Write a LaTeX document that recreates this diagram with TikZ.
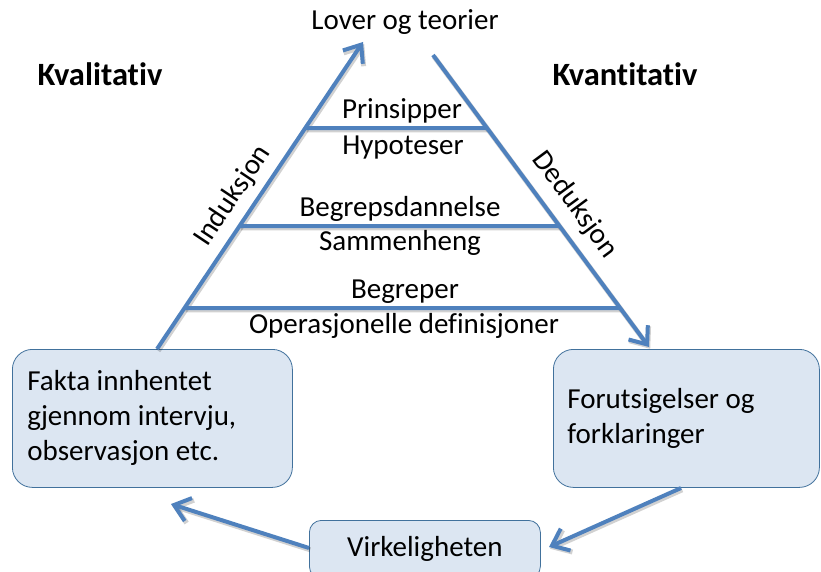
\documentclass[tikz,border=0pt]{standalone}
\usepackage{fontspec}
\setmainfont{Carlito}[Ligatures=CommonOff]
\usetikzlibrary{arrows.meta}
\definecolor{ln}{HTML}{4F81BD}
\definecolor{boxfill}{HTML}{DCE6F2}
\definecolor{boxline}{HTML}{41719C}
\begin{document}
\begin{tikzpicture}[x=1pt,y=-1pt,
  lbl/.style={font=\fontsize{29}{35}\selectfont, inner sep=0pt},
  sidelbl/.style={font=\fontsize{29}{35}\selectfont, inner sep=2pt, fill=white},
  head/.style={font=\fontsize{32.5}{38}\selectfont\bfseries, inner sep=0pt},
  flow/.style={draw=ln, line width=4pt, -{Straight Barb[length=15pt,width=24pt]}},
  flowshadow/.style={draw=black, opacity=0.18, line width=5pt,
    -{Straight Barb[length=15pt,width=24pt]}},
  rung/.style={draw=ln, line width=4pt},
  rungshadow/.style={draw=black, opacity=0.18, line width=5pt},
  card/.style={draw=boxline, line width=0.8pt, fill=boxfill, rounded corners=20pt,
    font=\fontsize{29}{35}\selectfont, align=flush left},
]
\useasboundingbox (0,0) rectangle (821,572);

% the three boxes of the cycle
\node[card, anchor=north west, minimum width=279pt, minimum height=138pt,
  text width=250pt, inner xsep=15pt] (fakta) at (12,349)
  {Fakta innhentet\\gjennom intervju,\\observasjon etc.};
\node[card, anchor=north west, minimum width=266pt, minimum height=138pt,
  text width=238pt, inner xsep=14pt] (forut) at (553,349)
  {Forutsigelser og\\forklaringer};
\node[card, anchor=north west, minimum width=231pt, minimum height=58pt,
  rounded corners=12pt, align=center] (virk) at (309,520) {Virkeligheten};

% headings and the top of the triangle
\node[lbl] (lover) at (405,22) {Lover og teorier};
\node[head] (kval) at (100,74) {Kvalitativ};
\node[head] (kvan) at (625,74) {Kvantitativ};

% ends of the two sides of the triangle and of the cycle arrows
\coordinate (indA) at (157,349);
\coordinate (indB) at (363,42);
\coordinate (dedA) at (433,55);
\coordinate (dedB) at (649,347);
\coordinate (fB) at (681,488);
\coordinate (vR) at (549,547);
\coordinate (vL) at (309,548);
\coordinate (fT) at (171,504);

% soft shadows under the blue strokes
\begin{scope}[transform canvas={shift={(1.2pt,-1.8pt)}}]
  \draw[flowshadow] (indA) -- (indB);
  \draw[flowshadow] (dedA) -- (dedB);
  \draw[flowshadow] (fB) -- (vR);
  \draw[flowshadow] (vL) -- (fT);
  \foreach \yy in {128,226,308}
    \draw[rungshadow] (intersection of indA--indB and 0,\yy--821,\yy)
                   -- (intersection of dedA--dedB and 0,\yy--821,\yy);
\end{scope}

% sides
\draw[flow] (indA) -- (indB);
\draw[flow] (dedA) -- (dedB);

% rungs between the sides
\foreach \yy in {128,226,308}
  \draw[rung] (intersection of indA--indB and 0,\yy--821,\yy)
           -- (intersection of dedA--dedB and 0,\yy--821,\yy);

% side labels, their white ground slightly over the sides
\node[sidelbl, rotate=56.3] (ind) at (233,196) {Induksjon};
\node[sidelbl, rotate=-53.5] (ded) at (575,205) {Deduksjon};

% level labels
\node[lbl] (prin) at (402,111) {Prinsipper};
\node[lbl] (hyp) at (403,148) {Hypoteser};
\node[lbl] (bdan) at (400,209) {Begrepsdannelse};
\node[lbl] (samm) at (400,243) {Sammenheng};
\node[lbl] (begr) at (405,292) {Begreper};
\node[lbl] (oper) at (404,326) {Operasjonelle definisjoner};

% cycle arrows
\draw[flow] (fB) -- (vR);
\draw[flow] (vL) -- (fT);
\end{tikzpicture}
\end{document}
